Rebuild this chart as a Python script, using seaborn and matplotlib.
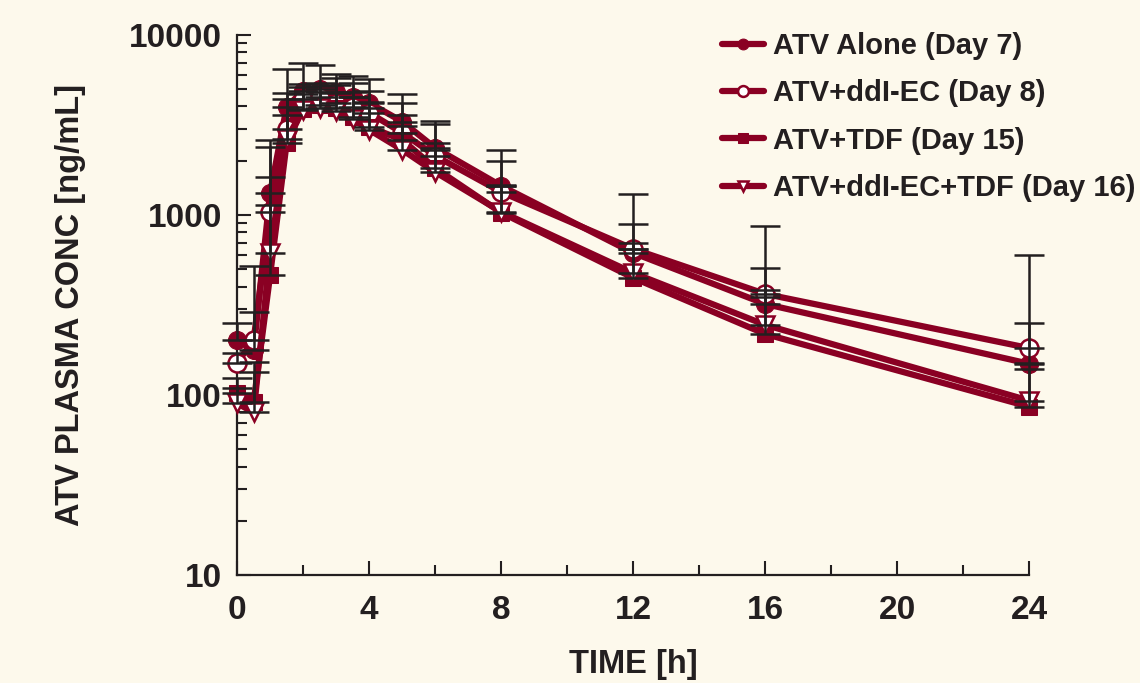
import numpy as np
import pandas as pd
import seaborn as sns
import matplotlib.pyplot as plt
from matplotlib.ticker import FixedLocator, NullFormatter

# --- データ ---
time_h = [0, 0.5, 1, 1.5, 2, 2.5, 3, 3.5, 4, 5, 6, 8, 12, 16, 24]

series_names = ['ATV Alone (Day 7)', 'ATV+ddI-EC (Day 8)',
                'ATV+TDF (Day 15)', 'ATV+ddI-EC+TDF (Day 16)']

atv_alone = [202, 178, 1324, 3980, 4890, 5010, 4820, 4530, 4190, 3300, 2355, 1450, 615, 320, 149]
atv_ddi = [151, 202, 1040, 3000, 4400, 4530, 4190, 3980, 3690, 2860, 2130, 1340, 647, 364, 182]
atv_tdf = [103, 91, 464, 2510, 3880, 4080, 3930, 3500, 3080, 2610, 1820, 1030, 447, 218, 86]
atv_ddi_tdf = [90, 80, 615, 2640, 3830, 3930, 3780, 3410, 2970, 2300, 1730, 1040, 476, 245, 93]

# 上側エラーバー (平均+SD) の上端
atv_alone_upper = [252, 290, 2590, 6440, 7010, 6810, 6070, 5920, 5680, 4700, 3340, 1995, 890, 508, 251]
atv_ddi_upper = [171, 521, 2390, 4780, 5350, 5430, 5740, 5400, 4900, 4180, 3200, 2300, 1308, 869, 600]
atv_tdf_upper = [125, 152, 1136, 4390, 5100, 5200, 5270, 4840, 4250, 3570, 2520, 1470, 650, 350, 150]
atv_ddi_tdf_upper = [110, 135, 1618, 3600, 4700, 4800, 4780, 4540, 3930, 3100, 2300, 1450, 702, 383, 140]

y_tick_values = [10, 100, 1000, 10000]
y_tick_labels = ['10', '100', '1000', '10000']
x_major = [0, 4, 8, 12, 16, 20, 24]
x_minor = [2, 6, 10, 14, 18, 22]

RED = '#8A0023'
INK = '#231F20'
BG = '#FDF9EC'

means = [atv_alone, atv_ddi, atv_tdf, atv_ddi_tdf]
uppers = [atv_alone_upper, atv_ddi_upper, atv_tdf_upper, atv_ddi_tdf_upper]
styles = [
    dict(marker='o', markersize=13, markerfacecolor=RED, markeredgecolor=RED),
    dict(marker='o', markersize=13, markerfacecolor='white', markeredgecolor=RED, markeredgewidth=1.8),
    dict(marker='s', markersize=12, markerfacecolor=RED, markeredgecolor=RED),
    dict(marker='v', markersize=13, markerfacecolor='white', markeredgecolor=RED, markeredgewidth=1.8),
]

sns.set_theme(style='ticks')
plt.rcParams['font.family'] = ['Liberation Sans', 'DejaVu Sans']
plt.rcParams['font.weight'] = 'bold'
plt.rcParams['text.color'] = INK
plt.rcParams['axes.labelcolor'] = INK
plt.rcParams['xtick.color'] = INK
plt.rcParams['ytick.color'] = INK

fig = plt.figure(figsize=(11.4, 6.83), dpi=100, facecolor=BG)
ax = fig.add_axes([0.208, 0.158, 0.695, 0.791])
ax.set_facecolor(BG)

for name, m, up, st in zip(series_names, means, uppers, styles):
    df = pd.DataFrame({'time': time_h, 'conc': m})
    sns.lineplot(data=df, x='time', y='conc', ax=ax, color=RED, linewidth=4.5,
                 label=name, zorder=3, clip_on=False, **st)
    m_arr = np.array(m, dtype=float)
    up_arr = np.array(up, dtype=float)
    eb = ax.errorbar(time_h, m_arr, yerr=[np.zeros_like(m_arr), up_arr - m_arr], fmt='none',
                     ecolor=INK, elinewidth=1.8, capsize=11, capthick=1.8, zorder=5)
    for art in eb.lines[1] + eb.lines[2]:
        art.set_clip_on(False)

ax.set_yscale('log')
ax.set_ylim(10, 10000)
ax.set_xlim(0, 24)
ax.set_yticks(y_tick_values, labels=y_tick_labels)
ax.yaxis.set_minor_locator(FixedLocator(
    [d * k for d in [10, 100, 1000] for k in range(2, 10)]))
ax.yaxis.set_minor_formatter(NullFormatter())
ax.set_xticks(x_major)
ax.xaxis.set_minor_locator(FixedLocator(x_minor))

sns.despine(ax=ax)
for s in ['left', 'bottom']:
    ax.spines[s].set_linewidth(1.6)
    ax.spines[s].set_color(INK)

ax.tick_params(axis='both', which='major', direction='in', length=10, width=1.5,
               labelsize=24)
ax.tick_params(axis='both', which='minor', direction='in', length=7, width=1.5)
ax.tick_params(axis='y', which='major', pad=11)
ax.tick_params(axis='x', which='major', pad=14)
for lab in ax.get_xticklabels() + ax.get_yticklabels():
    lab.set_fontweight('bold')

ax.set_xlabel('TIME [h]', fontsize=23.5, fontweight='bold', labelpad=17)
ax.set_ylabel('ATV PLASMA CONC [ng/mL]', fontsize=23.5, fontweight='bold', labelpad=31)

leg = ax.legend(loc='upper left', bbox_to_anchor=(0.633, 0.953), bbox_transform=fig.transFigure,
                frameon=False, fontsize=21, handlelength=1.45, handletextpad=0.3,
                labelspacing=0.66, borderpad=0, borderaxespad=0, markerscale=0.6)
for t in leg.get_texts():
    t.set_fontweight('bold')
    t.set_color(INK)

fig.savefig('out.png', dpi=100, facecolor=BG)
